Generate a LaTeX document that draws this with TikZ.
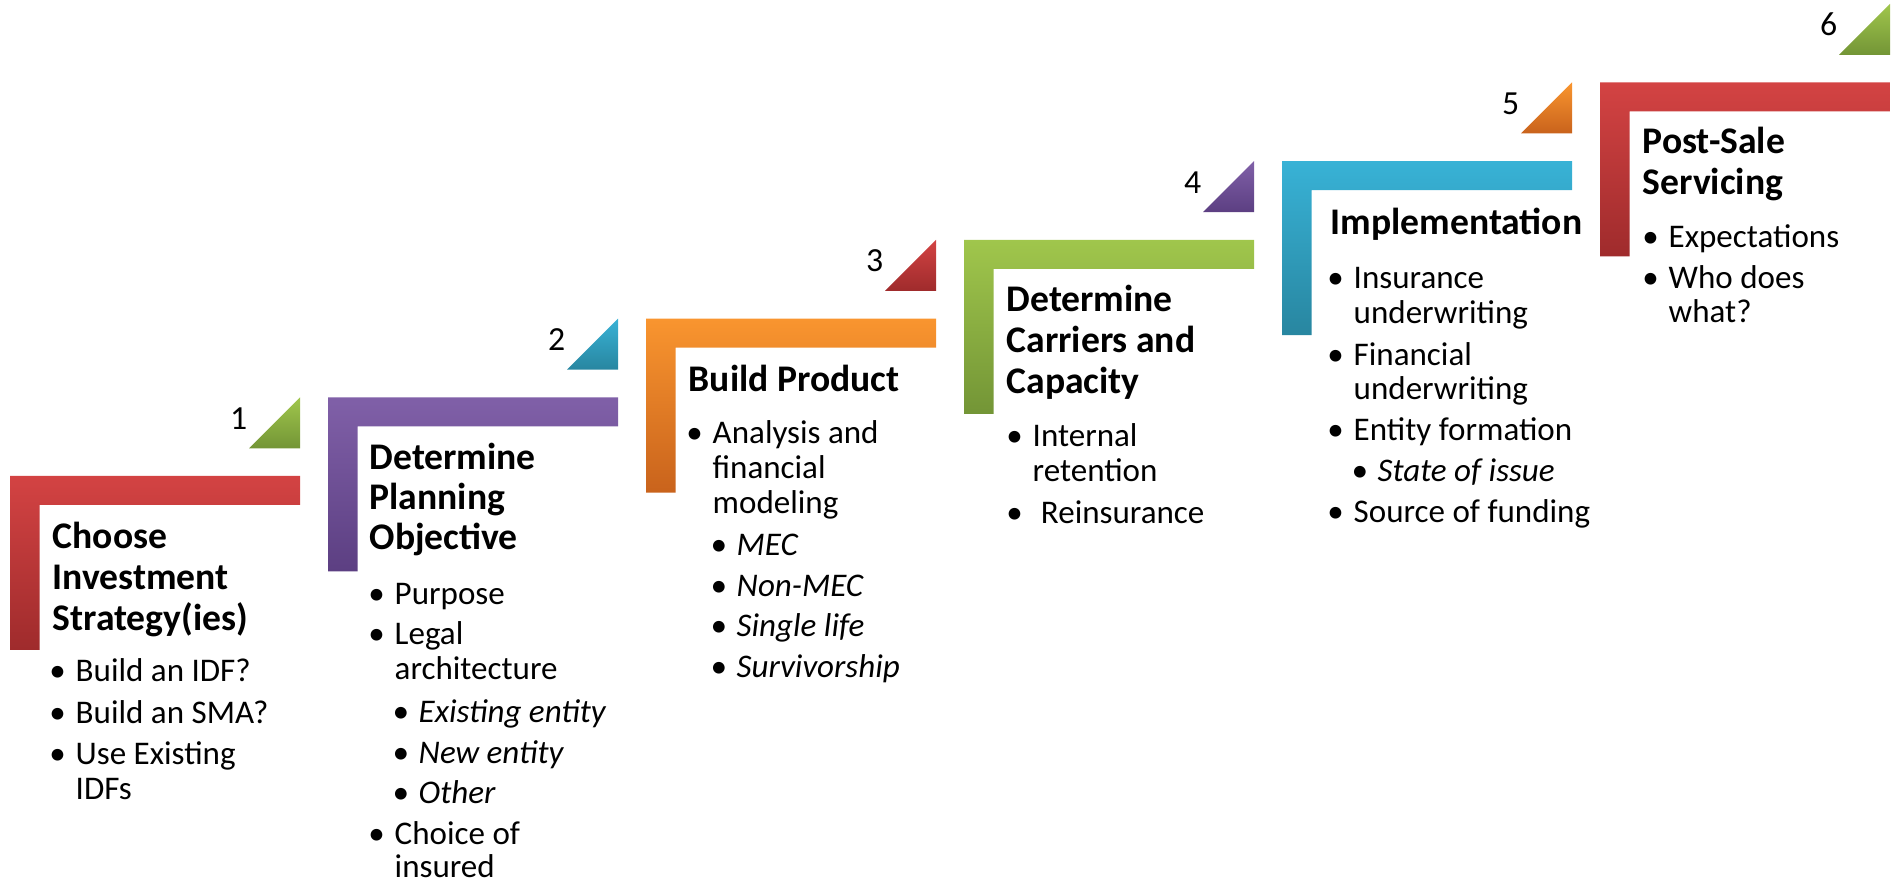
\documentclass[tikz,border=0pt]{standalone}
\usepackage{fontspec}
\setmainfont{Carlito}

\definecolor{redA}{HTML}{D34343}
\definecolor{redB}{HTML}{9F2B2C}
\definecolor{purA}{HTML}{8060A8}
\definecolor{purB}{HTML}{5C3F82}
\definecolor{orgA}{HTML}{F9952F}
\definecolor{orgB}{HTML}{C9631C}
\definecolor{grnA}{HTML}{A0C64C}
\definecolor{grnB}{HTML}{739536}
\definecolor{bluA}{HTML}{38B2D6}
\definecolor{bluB}{HTML}{2886A0}

\newcommand{\bl}{\llap{\textbullet\hspace{0.3em}}}

\begin{document}
\begin{tikzpicture}[
    ttl/.style={anchor=base west, inner sep=0pt, font=\fontsize{10.7}{12}\selectfont\bfseries},
    itm/.style={anchor=base west, inner sep=0pt, font=\fontsize{9.4}{11}\selectfont, execute at begin node=\bl},
    cnt/.style={anchor=base west, inner sep=0pt, font=\fontsize{9.4}{11}\selectfont},
    subitm/.style={itm, font=\fontsize{9.4}{11}\selectfont\itshape},
    num/.style={anchor=base east, inner sep=0pt, font=\fontsize{9.6}{11}\selectfont}
]
    \useasboundingbox (0,0) rectangle (18.99,8.81);

    % Six L-shaped steps
    \foreach \i/\ca/\cb in {0/redA/redB, 1/purA/purB, 2/orgA/orgB, 3/grnA/grnB, 4/bluA/bluB, 5/redA/redB}{
        \pgfmathsetmacro{\xa}{0.10+3.18*\i}
        \pgfmathsetmacro{\ya}{4.05+0.787*\i}
        \shade[top color=\ca, bottom color=\cb] (\xa,\ya) -- ++(2.90,0) -- ++(0,-0.29) -- ++(-2.605,0) -- ++(0,-1.45) -- ++(-0.295,0) -- cycle;
    }

    % Corner triangles with step numbers
    \foreach \i/\ca/\cb [count=\k] in {0/grnA/grnB, 1/bluA/bluB, 2/redA/redB, 3/purA/purB, 4/orgA/orgB, 5/grnA/grnB}{
        \pgfmathsetmacro{\xr}{3.00+3.18*\i}
        \pgfmathsetmacro{\yt}{4.837+0.787*\i}
        \shade[top color=\ca, bottom color=\cb] (\xr,\yt) -- (\xr,\yt-0.51) -- (\xr-0.51,\yt-0.51) -- cycle;
        \node[num] (num\k) at (\xr-0.52,\yt-0.32) {\k};
    }

    % Step 1
    \foreach \x/\y/\s/\t [count=\k] in {
        0.52/3.32/ttl/Choose, 0.52/2.91/ttl/Investment, 0.52/2.50/ttl/Strategy(ies),
        0.75/1.99/itm/Build an IDF?, 0.75/1.57/itm/Build an SMA?,
        0.75/1.16/itm/Use Existing, 0.75/0.81/cnt/IDFs}
        \node[\s] (a\k) at (\x,\y) {\t};

    % Step 2
    \foreach \x/\y/\s/\t [count=\k] in {
        3.69/4.11/ttl/Determine, 3.69/3.71/ttl/Planning, 3.69/3.31/ttl/Objective,
        3.94/2.76/itm/Purpose, 3.94/2.36/itm/Legal, 3.94/2.01/cnt/architecture,
        4.18/1.58/subitm/Existing entity, 4.18/1.17/subitm/New entity, 4.18/0.77/subitm/Other,
        3.94/0.36/itm/Choice of, 3.94/0.03/cnt/insured}
        \node[\s] (b\k) at (\x,\y) {\t};

    % Step 3
    \foreach \x/\y/\s/\t [count=\k] in {
        6.88/4.89/ttl/Build Product,
        7.12/4.37/itm/Analysis and, 7.12/4.02/cnt/financial, 7.12/3.67/cnt/modeling,
        7.36/3.25/subitm/MEC, 7.36/2.84/subitm/Non-MEC,
        7.36/2.44/subitm/Single life, 7.36/2.03/subitm/Survivorship}
        \node[\s] (c\k) at (\x,\y) {\t};

    % Step 4
    \foreach \x/\y/\s/\t [count=\k] in {
        10.06/5.69/ttl/Determine, 10.06/5.28/ttl/Carriers and, 10.06/4.87/ttl/Capacity,
        10.32/4.34/itm/Internal, 10.32/3.99/cnt/retention,
        10.32/3.57/itm/\hspace{0.25em}Reinsurance}
        \node[\s] (d\k) at (\x,\y) {\t};

    % Step 5
    \foreach \x/\y/\s/\t [count=\k] in {
        13.30/6.46/ttl/Implementation,
        13.53/5.92/itm/Insurance, 13.53/5.57/cnt/underwriting,
        13.53/5.15/itm/Financial, 13.53/4.81/cnt/underwriting,
        13.53/4.40/itm/Entity formation, 13.77/3.99/subitm/State of issue,
        13.53/3.58/itm/Source of funding}
        \node[\s] (e\k) at (\x,\y) {\t};

    % Step 6
    \foreach \x/\y/\s/\t [count=\k] in {
        16.42/7.27/ttl/Post-Sale, 16.42/6.86/ttl/Servicing,
        16.68/6.33/itm/Expectations, 16.68/5.92/itm/Who does, 16.68/5.58/cnt/what?}
        \node[\s] (f\k) at (\x,\y) {\t};
\end{tikzpicture}
\end{document}
